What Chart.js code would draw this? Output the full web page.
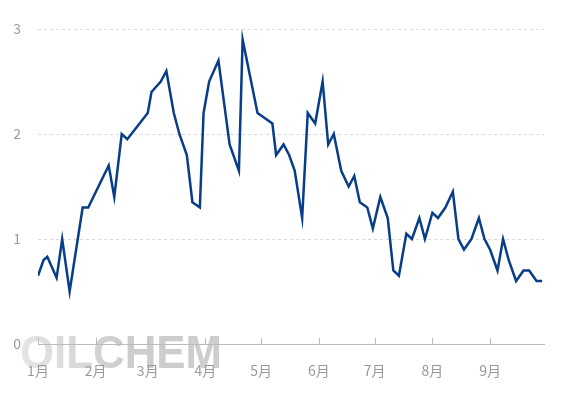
<!DOCTYPE html>
<html>
<head>
<meta charset="utf-8">
<script src="https://cdn.jsdelivr.net/npm/chart.js@4"></script>
<style>
  html, body { margin: 0; padding: 0; background: #fff; }
  #wrap { width: 566px; height: 399px; }
</style>
</head>
<body>
<div id="wrap"><canvas id="chart" width="566" height="399"></canvas></div>
<script>
// Day of year (Jan 1 = 0) for each observation
const days = [0, 3, 5, 10, 13, 17, 24, 27, 38, 41, 45, 48, 59, 61, 66, 69, 73, 76, 80, 83,
    87, 89, 92, 97, 103, 108, 110, 118, 126, 128, 132, 135, 138, 142, 145, 149, 153, 156, 159, 163,
    167, 170, 173, 177, 180, 184, 188, 191, 194, 198, 201, 205, 208, 212, 215, 219, 223, 226, 229, 233,
    237, 240, 243, 247, 250, 253, 257, 261, 264, 268, 271];

// Series values
const values = [0.65, 0.8, 0.83, 0.63, 1.0, 0.5, 1.3, 1.3, 1.7, 1.4, 2.0, 1.95, 2.2, 2.4, 2.5, 2.6, 2.2, 2.0, 1.8, 1.35,
    1.3, 2.2, 2.5, 2.7, 1.9, 1.65, 2.9, 2.2, 2.1, 1.8, 1.9, 1.8, 1.65, 1.2, 2.2, 2.1, 2.5, 1.9, 2.0, 1.65,
    1.5, 1.6, 1.35, 1.3, 1.1, 1.4, 1.2, 0.7, 0.65, 1.05, 1.0, 1.2, 1.0, 1.25, 1.2, 1.3, 1.45, 1.0, 0.9, 1.0,
    1.2, 1.0, 0.9, 0.7, 1.0, 0.8, 0.6, 0.7, 0.7, 0.6, 0.6];

// Month tick positions and labels
const monthStarts = [0, 31, 59, 90, 120, 151, 181, 212, 243];
const monthLabels = ['1月', '2月', '3月', '4月', '5月', '6月', '7月', '8月', '9月'];
const yTicks = [0, 1, 2, 3];

const labelFont = { family: '"Noto Sans CJK SC", "Noto Sans", sans-serif', size: 14 };

// Watermark behind the chart
const watermark = {
    id: 'watermark',
    beforeDraw(chart) {
        const ctx = chart.ctx;
        ctx.save();
        ctx.font = 'bold 46px "Liberation Sans", Arial, sans-serif';
        const w = ctx.measureText('OILCHEM').width;
        const grad = ctx.createLinearGradient(30, 372, 200, 325);
        grad.addColorStop(0, '#f7f7f7');
        grad.addColorStop(1, '#cdcdcd');
        ctx.fillStyle = grad;
        ctx.textBaseline = 'alphabetic';
        ctx.translate(20, 368);
        ctx.scale(202 / w, 1);
        ctx.fillText('OILCHEM', 0, 0);
        ctx.restore();
    }
};

// Short tick marks pointing up from the x axis
const innerTicks = {
    id: 'innerTicks',
    afterDatasetsDraw(chart) {
        const ctx = chart.ctx;
        const x = chart.scales.x;
        const bottom = chart.chartArea.bottom;
        ctx.save();
        ctx.strokeStyle = '#bbbbbb';
        ctx.lineWidth = 1;
        x.ticks.forEach(t => {
            const px = Math.round(x.getPixelForValue(t.value)) + 0.5;
            ctx.beginPath();
            ctx.moveTo(px, bottom - 6);
            ctx.lineTo(px, bottom);
            ctx.stroke();
        });
        ctx.restore();
    }
};

new Chart(document.getElementById('chart'), {
    type: 'line',
    data: {
        datasets: [{
            data: days.map((d, i) => ({ x: d, y: values[i] })),
            borderColor: '#083d88',
            borderWidth: 2.5,
            pointRadius: 0,
            tension: 0,
            fill: false
        }]
    },
    options: {
        responsive: false,
        animation: false,
        layout: { padding: { top: 29, right: 22, left: 0, bottom: 0 } },
        plugins: { legend: { display: false }, tooltip: { enabled: false } },
        scales: {
            x: {
                type: 'linear',
                min: 0,
                max: 272,
                afterBuildTicks: s => { s.ticks = monthStarts.map(v => ({ value: v })); },
                afterFit: s => { s.height = 55; },
                ticks: {
                    color: '#999',
                    font: labelFont,
                    padding: 18,
                    maxRotation: 0,
                    autoSkip: false,
                    callback: v => monthLabels[monthStarts.indexOf(v)]
                },
                grid: { display: true, drawOnChartArea: false, drawTicks: false },
                border: { display: true, color: '#bbbbbb', width: 1 }
            },
            y: {
                min: 0,
                max: 3,
                afterBuildTicks: s => { s.ticks = yTicks.map(v => ({ value: v })); },
                afterFit: s => { s.width = 38; },
                ticks: { color: '#999', font: labelFont, padding: 17 },
                grid: {
                    drawTicks: false,
                    color: ctx => ctx.tick && ctx.tick.value === 0 ? 'rgba(0,0,0,0)' : '#d9d9d9',
                    lineWidth: 1
                },
                border: { display: false, dash: [3, 3] }
            }
        }
    },
    plugins: [watermark, innerTicks]
});
</script>
</body>
</html>
